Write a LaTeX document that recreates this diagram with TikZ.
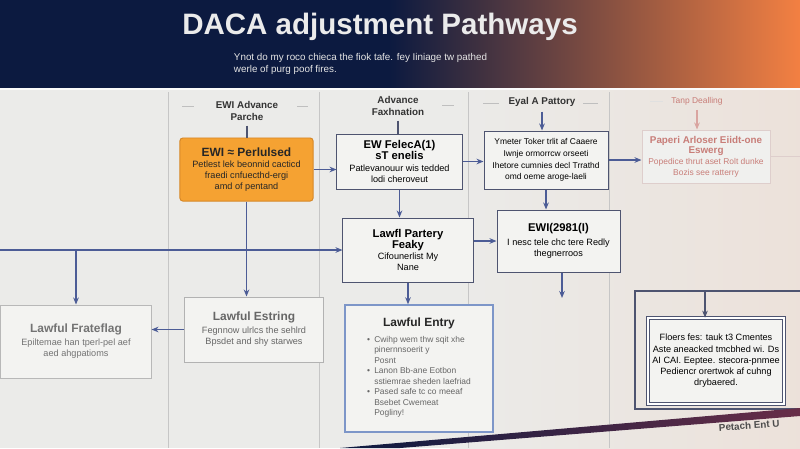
\documentclass[tikz,border=0pt]{standalone}
\usepackage{fontspec}
\setmainfont{Liberation Sans}
\usetikzlibrary{arrows.meta,positioning,calc}
\definecolor{headnavy}{RGB}{12,26,64}
\definecolor{headplum}{RGB}{104,46,72}
\definecolor{headorange}{RGB}{243,128,66}
\definecolor{panelgray}{RGB}{235,235,233}
\definecolor{boxfill}{RGB}{243,243,241}
\definecolor{slateline}{RGB}{78,84,112}
\definecolor{arrowblue}{RGB}{76,92,150}
\definecolor{ewiorange}{RGB}{245,162,50}
\definecolor{ewiedge}{RGB}{214,136,40}
\definecolor{fadeline}{RGB}{222,206,204}
\definecolor{fadetext}{RGB}{200,125,120}
\definecolor{entryblue}{RGB}{125,150,200}
\definecolor{dividergray}{RGB}{198,198,198}
\tikzset{
    % Flow chart styles
    flowbox/.style={
        rectangle, draw=slateline, line width=0.7pt, fill=boxfill,
        align=center, font=\fontsize{6.5}{8}\selectfont, inner sep=2pt
    },
    ewibox/.style={
        rectangle, draw=ewiedge, line width=0.7pt, fill=ewiorange,
        align=center, font=\fontsize{6.5}{8}\selectfont,
        rounded corners=2pt, text=black!85
    },
    fadebox/.style={
        rectangle, draw=fadeline, line width=0.7pt, fill=boxfill!60!panelgray,
        align=center, font=\fontsize{6}{7.5}\selectfont, text=fadetext
    },
    entrybox/.style={
        rectangle, draw=entryblue, line width=1pt, fill=boxfill,
        align=center, font=\fontsize{6}{7.5}\selectfont, text=black!60
    },
    colhead/.style={
        align=center, font=\bfseries\fontsize{7}{8.5}\selectfont, text=black!80
    },
    headtick/.style={draw=black!25, line width=0.6pt},
    divider/.style={draw=dividergray, line width=0.6pt},
    flowarrow/.style={-{Stealth[length=5pt,width=4pt]}, draw=arrowblue, line width=0.8pt},
    flowline/.style={draw=slateline, line width=0.8pt}
}

\begin{document}
\begin{tikzpicture}[x=0.025cm, y=-0.025cm]
\useasboundingbox (0,0) rectangle (800,448);

% Panel and header band
\fill[panelgray] (0,0) rectangle (800,448);
\shade[left color=panelgray, right color=headorange!9!panelgray] (450,88) rectangle (800,448);
\fill[headnavy] (0,0) rectangle (390,88);
\shade[left color=headnavy, middle color=headplum, right color=headorange] (389,0) rectangle (800,88);
\draw[white!80!panelgray, line width=1.2pt] (0,89) -- (800,89);

% Title
\node[font=\bfseries\fontsize{21}{24}\selectfont, text=white!92!black] (title) at (380,27) {DACA adjustment Pathways};
\node[anchor=north west, align=left, font=\fontsize{7}{9}\selectfont, text=white!90!black] (subtitle) at (229,48)
    {Ynot do my roco chieca the fiok tafe. fey Iiniage tw pathed\\werle of purg poof fires.};

% Column dividers
\foreach \xd in {168,319,468,609}
    \draw[divider] (\xd,92) -- (\xd,448);

% Column headings
\node[colhead] (head1) at (247,111) {EWI Advance\\Parche};
\node[colhead] (head2) at (398,106) {Advance\\Faxhnation};
\node[colhead] (head3) at (542,102) {Eyal A Pattory};
\node[colhead, text=fadetext, font=\fontsize{6}{7}\selectfont] (head4) at (697,101) {Tanp Dealling};
\draw[headtick] (182,106) -- (194,106);
\draw[headtick] (297,106) -- (308,106);
\draw[headtick] (442,105) -- (454,105);
\draw[headtick] (483,103) -- (499,103);
\draw[headtick] (583,103) -- (598,103);
\draw[headtick, draw=black!12] (650,101) -- (663,101);

% Top row
\node[ewibox, minimum width=3.325cm, minimum height=1.575cm] (perlulsed) at (246.5,169.5)
    {\textbf{\fontsize{8.5}{10}\selectfont EWI ≈ Perlulsed}\\Petlest lek beonnid cacticd\\fraedi cnfuecthd-ergi\\amd of pentand};
\node[flowbox, minimum width=3.125cm, minimum height=1.375cm] (felec) at (399.5,161.5)
    {\textbf{\fontsize{8}{9.5}\selectfont EW FelecA(1)}\\\textbf{\fontsize{8}{9.5}\selectfont sT enelis}\\Patlevanouur wis tedded\\lodi cheroveut};
\node[flowbox, minimum width=3.1cm, minimum height=1.45cm, font=\fontsize{6}{8.3}\selectfont] (pattory) at (546,160)
    {Ymeter Toker trlit af Caaere\\Iwnje ormorrcw orseeti\\Ihetore cumnies decl Trrathd\\omd oeme aroge-laeli};
\node[fadebox, minimum width=3.2cm, minimum height=1.325cm] (dealling) at (706,156.5)
    {\textbf{\fontsize{7}{8.5}\selectfont Paperi Arloser Eiidt-one}\\\textbf{\fontsize{7}{8.5}\selectfont Eswerg}\\Popedice thrut aset Rolt dunke\\Bozis see ratterry};
\coordinate (rightout) at (800,156.5);

% Middle row
\coordinate (leftin) at (0,250);
\node[flowbox, minimum width=3.25cm, minimum height=1.6cm] (partery) at (408,250)
    {\textbf{\fontsize{8}{9.5}\selectfont Lawfl Partery}\\\textbf{\fontsize{8}{9.5}\selectfont Feaky}\\Cifounerlist My\\Nane};
\node[flowbox, minimum width=3.075cm, minimum height=1.55cm] (ewitwo) at (558.5,241)
    {\textbf{\fontsize{8}{9.5}\selectfont EWI(2981(I)}\\[2pt]I nesc tele chc tere Redly\\thegnerroos};
\coordinate (sixout) at (562,298);

% Bottom row
\node[flowbox, minimum width=3.45cm, minimum height=1.625cm, draw=black!30, text=black!60] (estring) at (254,329.5)
    {\textbf{\fontsize{8.5}{10}\selectfont Lawful Estring}\\[1pt]Fegnnow ulrlcs the sehlrd\\Bpsdet and shy starwes};
\node[flowbox, minimum width=3.75cm, minimum height=1.825cm, draw=black!28, text=black!55] (frateflag) at (76,341.5)
    {\textbf{\fontsize{8.5}{10}\selectfont Lawful Frateflag}\\[1pt]Epiltemae han tperl-pel aef\\aed ahgpatioms};
\node[entrybox, minimum width=3.7cm, minimum height=3.175cm] (entry) at (419,368.5)
    {\textbf{\fontsize{8.5}{10}\selectfont\color{black!85}Lawful Entry}\\[3pt]
     \begin{tabular}{@{}l@{\hspace{3pt}}l@{}}
     \textbullet & Cwihp wem thw sqit xhe\\
                 & pinernnsoerit y\\
                 & Posnt\\
     \textbullet & Lanon Bb-ane Eotbon\\
                 & sstiemrae sheden laefriad\\
     \textbullet & Pased safe tc co meeaf\\
                 & Bsebet Cwemeat\\
                 & Pogliny!
     \end{tabular}};

% Right frame
\draw[flowline] (800,291) -- (635,291) -- (635,409) -- (800,409);
\coordinate (frametop) at (705,291);
\node[flowbox, minimum width=3.4cm, minimum height=2.15cm, double, double distance=1.2pt, line width=0.5pt] (cmentes) at (716,361)
    {Floers fes: tauk t3 Cmentes\\Aste aneacked tmcbhed wi. Ds\\AI CAI. Eeptee. stecora-pnmee\\Pediencr orertwok af cuhng\\drybaered.};

% Connectors
\draw[flowline] (head1) -- (head1 |- perlulsed.north);
\draw[flowline] (head2) -- (head2 |- felec.north);
\draw[flowarrow] (head3) -- (head3 |- pattory.north);
\draw[flowarrow, draw=fadetext!70] (head4) -- (head4 |- dealling.north);
\draw[flowarrow] (perlulsed.east) -- (perlulsed.east -| felec.west);
\draw[flowarrow] (felec.east) -- (felec.east -| pattory.west);
\draw[flowarrow] (pattory.east) -- (pattory.east -| dealling.west);
\draw[flowline, draw=fadeline] (dealling.east) -- (rightout);
\draw[flowarrow] (felec.south) -- (felec.south |- partery.north);
\draw[flowarrow] (pattory.south) -- (pattory.south |- ewitwo.north);
\draw[flowarrow] (leftin) -- (partery.west);
\draw[flowarrow] (leftin -| frateflag.north) -- (frateflag.north);
\draw[flowarrow] (partery.east |- ewitwo.west) -- (ewitwo.west);
\draw[flowarrow] (ewitwo.south -| sixout) -- (sixout);
\draw[flowarrow] (perlulsed.south) -- (perlulsed.south |- estring.north);
\draw[flowarrow] (estring.west) -- (estring.west -| frateflag.east);
\draw[flowarrow] (partery.south) -- (partery.south |- entry.north);
\draw[flowarrow, draw=slateline] (frametop) -- (frametop |- cmentes.north);

% Screen edge at the bottom
\shade[left color=headnavy, right color=headplum] (340,448) -- (800,408) -- (800,416) -- (400,448) -- cycle;
\node[anchor=west, rotate=4, font=\bfseries\fontsize{7}{8}\selectfont, text=black!70] (footer) at (714,428) {Petach Ent U};

\end{tikzpicture}
\end{document}
